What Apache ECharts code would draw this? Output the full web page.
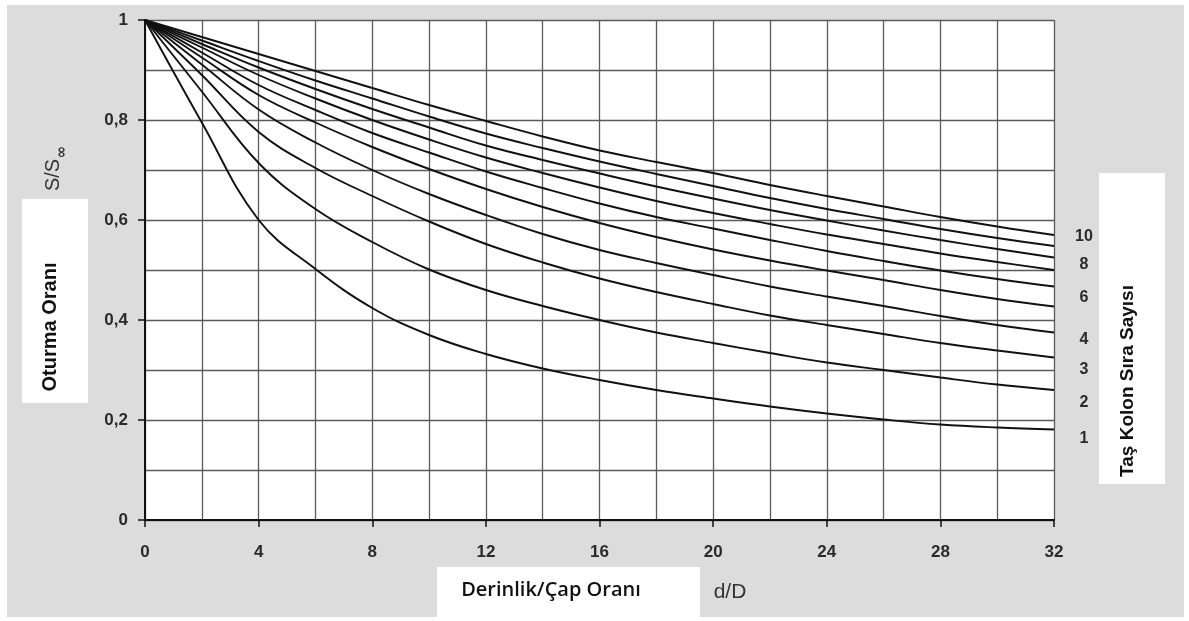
<!DOCTYPE html>
<html>
<head>
<meta charset="utf-8">
<title>Oturma Oranı – Derinlik/Çap Oranı</title>
<style>
  html, body { margin: 0; padding: 0; background: #ffffff; }
  #chart { width: 1189px; height: 621px; }
</style>
<script src="https://cdn.jsdelivr.net/npm/echarts@6/dist/echarts.min.js"></script>
</head>
<body>
<div id="chart"></div>
<script>
// Derinlik/Çap oranı (d/D) sampling points
const depthRatio = [0, 2, 4, 6, 8, 10, 12, 14, 16, 18, 20, 22, 24, 26, 28, 30, 32];

// Oturma oranı S/S∞ for each number of stone-column rows
const rows1  = [1, 0.795, 0.600, 0.502, 0.424, 0.370, 0.332, 0.303, 0.280, 0.260, 0.243, 0.227, 0.213, 0.201, 0.191, 0.185, 0.181];
const rows2  = [1, 0.857, 0.714, 0.622, 0.556, 0.501, 0.460, 0.428, 0.400, 0.375, 0.354, 0.334, 0.315, 0.300, 0.285, 0.271, 0.260];
const rows3  = [1, 0.890, 0.776, 0.704, 0.648, 0.597, 0.552, 0.515, 0.483, 0.456, 0.432, 0.409, 0.390, 0.372, 0.354, 0.339, 0.325];
const rows4  = [1, 0.911, 0.821, 0.755, 0.700, 0.652, 0.610, 0.572, 0.540, 0.514, 0.490, 0.467, 0.447, 0.428, 0.408, 0.390, 0.375];
const rows5  = [1, 0.925, 0.850, 0.795, 0.746, 0.702, 0.662, 0.626, 0.594, 0.566, 0.541, 0.519, 0.499, 0.480, 0.460, 0.442, 0.427];
const rows6  = [1, 0.935, 0.870, 0.820, 0.774, 0.735, 0.697, 0.664, 0.633, 0.606, 0.583, 0.560, 0.538, 0.518, 0.499, 0.482, 0.467];
const rows7  = [1, 0.945, 0.890, 0.843, 0.800, 0.761, 0.725, 0.694, 0.665, 0.638, 0.614, 0.592, 0.571, 0.552, 0.533, 0.516, 0.500];
const rows8  = [1, 0.952, 0.905, 0.862, 0.822, 0.785, 0.749, 0.720, 0.693, 0.667, 0.643, 0.620, 0.599, 0.579, 0.560, 0.542, 0.525];
const rows9  = [1, 0.959, 0.918, 0.879, 0.843, 0.807, 0.773, 0.744, 0.717, 0.692, 0.668, 0.644, 0.622, 0.602, 0.582, 0.564, 0.548];
const rows10 = [1, 0.966, 0.932, 0.898, 0.864, 0.830, 0.798, 0.767, 0.739, 0.716, 0.694, 0.670, 0.648, 0.627, 0.606, 0.587, 0.570];

const rowCounts = ['1', '2', '3', '4', '5', '6', '7', '8', '9', '10'];
const rowSeries = [rows1, rows2, rows3, rows4, rows5, rows6, rows7, rows8, rows9, rows10];

// Which curves carry a number at their right end, and how far it is nudged vertically
const endLabelShift = { '1': 9, '2': 13, '3': 12, '4': 7, '6': 11, '8': 7, '10': 2 };

const gridStyle = { color: '#5a5a5a', width: 1.3 };
const tickFont = { fontFamily: 'Liberation Sans, Arial, sans-serif', fontWeight: 'bold', fontSize: 17, color: '#2a2a2a' };

const series = rowCounts.map((name, i) => {
  const shift = endLabelShift[name];
  return {
    name: name,
    type: 'line',
    smooth: 0.4,
    symbol: 'none',
    lineStyle: { color: '#111111', width: 1.9 },
    data: depthRatio.map((x, k) => [x, rowSeries[i][k]]),
    endLabel: {
      show: shift !== undefined,
      formatter: '{a}',
      distance: 0,
      align: 'center',
      verticalAlign: 'middle',
      offset: [30, shift || 0],
      fontFamily: 'Liberation Sans, Arial, sans-serif',
      fontWeight: 'bold',
      fontSize: 16,
      color: '#2a2a2a'
    }
  };
});

const chart = echarts.init(document.getElementById('chart'), null, { renderer: 'canvas' });

chart.setOption({
  animation: false,
  backgroundColor: '#ffffff',
  grid: {
    left: 145, right: 135, top: 20, bottom: 101,
    show: true, backgroundColor: '#ffffff', borderWidth: 0
  },
  xAxis: {
    type: 'value',
    min: 0, max: 32, interval: 4,
    axisLine: { show: true, onZero: false, lineStyle: { color: '#111111', width: 2 } },
    axisTick: { show: true, length: 7, lineStyle: { color: '#111111', width: 1.5 } },
    axisLabel: Object.assign({ margin: 24 }, tickFont),
    splitLine: { show: true, lineStyle: gridStyle },
    minorTick: { show: false, splitNumber: 2 },
    minorSplitLine: { show: true, lineStyle: gridStyle }
  },
  yAxis: {
    type: 'value',
    min: 0, max: 1, interval: 0.2,
    axisLine: { show: true, onZero: false, lineStyle: { color: '#111111', width: 2 } },
    axisTick: { show: true, length: 7, lineStyle: { color: '#111111', width: 1.5 } },
    axisLabel: Object.assign({
      margin: 17,
      formatter: v => (v === 0 || v === 1) ? String(v) : v.toFixed(1).replace('.', ',')
    }, tickFont),
    splitLine: { show: true, lineStyle: gridStyle },
    minorTick: { show: false, splitNumber: 2 },
    minorSplitLine: { show: true, lineStyle: gridStyle }
  },
  graphic: [
    // grey panel behind the whole chart
    { type: 'rect', z: -10, silent: true,
      shape: { x: 7, y: 5, width: 1177, height: 612 },
      style: { fill: '#dcdcdc' } },
    // y axis caption box
    { type: 'rect', z: -5, silent: true,
      shape: { x: 22, y: 199, width: 66, height: 204 },
      style: { fill: '#ffffff' } },
    { type: 'text', x: 50, y: 327, rotation: Math.PI / 2, silent: true,
      style: { text: 'Oturma Oranı', align: 'center', verticalAlign: 'middle',
               fontFamily: 'Liberation Sans, Arial, sans-serif', fontWeight: 'bold', fontSize: 20, fill: '#111111' } },
    { type: 'text', x: 53, y: 175, rotation: Math.PI / 2, silent: true,
      style: { text: 'S/S', align: 'center', verticalAlign: 'middle',
               fontFamily: 'Liberation Sans, Arial, sans-serif', fontSize: 20, fill: '#333333' } },
    { type: 'text', x: 62, y: 152, rotation: Math.PI / 2, silent: true,
      style: { text: '∞', align: 'center', verticalAlign: 'middle',
               fontFamily: 'DejaVu Sans, sans-serif', fontWeight: 'bold', fontSize: 15, fill: '#333333' } },
    // right caption box
    { type: 'rect', z: -5, silent: true,
      shape: { x: 1099, y: 173, width: 66, height: 311 },
      style: { fill: '#ffffff' } },
    { type: 'text', x: 1128, y: 381, rotation: Math.PI / 2, silent: true,
      style: { text: 'Taş Kolon Sıra Sayısı', align: 'center', verticalAlign: 'middle',
               fontFamily: 'Liberation Sans, Arial, sans-serif', fontWeight: 'bold', fontSize: 19, fill: '#111111' } },
    // x axis caption box
    { type: 'rect', z: -5, silent: true,
      shape: { x: 437, y: 567, width: 263, height: 51 },
      style: { fill: '#ffffff' } },
    { type: 'text', x: 551, y: 590, silent: true,
      style: { text: 'Derinlik/Çap Oranı', align: 'center', verticalAlign: 'middle',
               fontFamily: 'Open Sans, sans-serif', fontWeight: 600, fontSize: 20, fill: '#111111' } },
    { type: 'text', x: 730, y: 592, silent: true,
      style: { text: 'd/D', align: 'center', verticalAlign: 'middle',
               fontFamily: 'Liberation Sans, Arial, sans-serif', fontSize: 21, fill: '#333333' } }
  ],
  series: series
});
</script>
</body>
</html>
